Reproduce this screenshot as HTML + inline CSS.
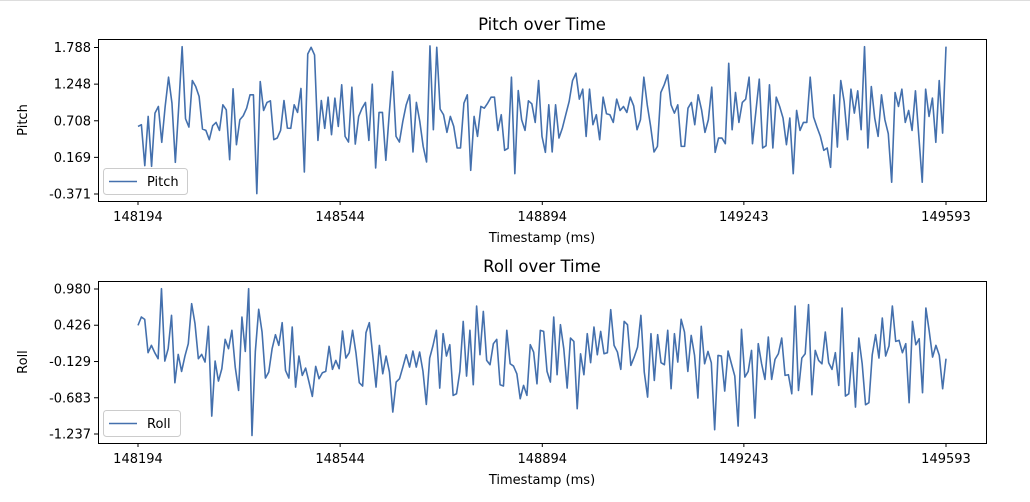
<!DOCTYPE html>
<html><head><meta charset="utf-8"><style>
body{margin:0;background:#fff;}
svg text{font-family:"DejaVu Sans","Liberation Sans",sans-serif;fill:#000;}
</style></head><body>
<svg id="fig" width="1030" height="497" xmlns="http://www.w3.org/2000/svg">
<rect x="0" y="0" width="1030" height="497" fill="#fff"/>
<line x1="0" y1="0.5" x2="1030" y2="0.5" stroke="#ddd"/>
</svg>
<script>
const pitchVals=[0.625,0.650,0.047,0.772,0.037,0.821,0.919,0.390,0.919,1.350,0.968,0.096,0.919,1.801,0.738,0.615,1.301,1.213,1.066,0.586,0.566,0.429,0.635,0.684,0.566,0.943,0.870,0.135,1.179,0.356,0.723,0.782,0.894,1.090,1.090,-0.365,1.287,0.860,0.978,1.002,0.429,0.454,0.566,1.007,0.600,0.596,0.943,0.831,1.184,-0.046,1.693,1.791,1.679,0.419,1.007,0.596,1.056,0.503,1.042,0.625,1.238,
0.478,0.395,1.203,0.365,0.772,0.894,0.978,0.419,1.247,0.013,0.831,0.831,0.125,0.811,1.434,0.478,0.395,0.699,0.943,1.090,0.248,0.978,0.699,0.331,0.101,1.811,0.576,1.791,0.880,0.797,0.537,0.772,0.625,0.307,0.307,0.968,1.090,-0.022,0.772,0.478,0.919,0.894,0.968,1.056,1.056,0.566,0.797,0.272,0.302,1.350,-0.071,1.154,0.723,0.566,1.002,0.958,0.684,1.301,
0.478,0.243,0.943,0.248,0.943,0.454,0.600,0.797,0.993,1.301,1.409,1.027,1.174,0.478,1.174,0.650,0.797,0.429,1.056,0.811,0.797,0.684,1.027,0.860,0.919,0.831,1.056,0.929,0.576,0.723,1.350,0.943,0.625,0.248,0.331,1.125,1.238,1.384,0.943,0.821,0.943,0.331,0.331,0.894,0.978,0.650,1.090,0.870,0.537,0.723,1.203,0.243,0.454,0.454,0.370,1.556,0.576,1.125,0.684,0.978,1.027,1.350,
0.370,0.846,1.321,0.307,0.341,1.238,0.307,1.056,0.919,0.748,0.356,0.748,-0.071,0.860,0.566,0.684,0.684,1.350,0.762,0.615,0.478,0.272,0.307,0.022,1.090,0.321,1.301,0.993,0.429,1.174,0.821,1.149,0.576,1.801,0.307,1.213,0.748,0.478,1.090,0.723,0.517,-0.198,1.125,0.919,1.174,0.684,0.860,0.566,1.149,0.478,-0.198,1.174,0.772,1.042,0.390,1.301,0.527,1.801];
const rollVals=[0.424,0.552,0.516,0.006,0.118,0.006,-0.086,0.985,-0.122,0.067,0.577,-0.453,-0.020,-0.280,-0.045,0.144,0.756,0.450,-0.086,-0.020,-0.137,0.409,-0.963,-0.122,-0.428,-0.239,0.210,0.067,0.348,-0.214,-0.571,0.552,0.026,0.985,-1.259,0.026,0.669,0.322,-0.382,-0.290,0.067,0.281,0.118,0.465,-0.265,-0.382,0.398,-0.520,-0.045,-0.341,-0.229,-0.443,-0.662,-0.203,-0.392,-0.300,-0.280,0.103,-0.249,-0.112,-0.239,0.337,
-0.076,0.006,0.348,0.006,-0.453,-0.504,0.312,0.465,-0.025,-0.520,0.118,-0.316,-0.045,-0.290,-0.902,-0.443,-0.392,-0.214,-0.025,-0.214,0.031,-0.214,0.016,-0.280,-0.785,-0.076,0.118,0.348,-0.535,0.297,-0.045,0.128,-0.647,-0.622,-0.280,0.485,-0.351,0.348,-0.484,0.720,-0.025,0.638,-0.112,-0.178,0.144,0.210,-0.484,-0.504,0.348,-0.163,-0.198,-0.316,-0.698,-0.494,-0.647,0.128,0.016,-0.469,0.348,0.332,-0.280,
-0.443,0.552,-0.331,0.434,0.067,-0.535,0.230,0.179,-0.851,-0.010,-0.331,0.297,-0.147,0.398,-0.025,0.332,-0.010,0.006,0.664,0.118,0.016,-0.249,0.485,0.434,-0.188,-0.061,0.092,0.577,-0.290,-0.673,0.297,-0.418,0.281,-0.147,-0.178,0.348,-0.545,0.297,-0.137,0.516,0.322,-0.280,0.271,-0.035,-0.688,0.409,-0.163,0.026,-0.147,-1.172,-0.035,-0.045,-0.581,0.031,-0.163,-0.351,-1.116,0.363,-0.367,-0.280,0.041,-0.994,0.144,
-0.163,-0.402,0.246,-0.402,-0.096,-0.010,0.230,-0.341,-0.331,-0.622,0.720,-0.571,-0.076,-0.010,0.740,-0.637,0.041,-0.112,-0.163,0.322,-0.147,-0.249,0.006,-0.494,0.689,-0.657,-0.622,0.006,-0.826,0.230,-0.163,-0.790,-0.759,-0.025,0.281,-0.076,0.536,-0.045,0.108,0.720,0.179,0.195,0.006,0.144,-0.759,0.485,0.128,0.220,-0.606,0.689,0.332,-0.061,0.118,-0.035,-0.545,-0.086];
const xTicks=[148194,148544,148894,149243,149593];
const pitchTicks=[1.788,1.248,0.708,0.169,-0.371];
const rollTicks=[0.980,0.426,-0.129,-0.683,-1.237];
const tStart=148194, tEnd=149593;

const svg=document.getElementById('fig');
const NS='http://www.w3.org/2000/svg';
function mk(tag,attrs,parent){const e=document.createElementNS(NS,tag);for(const k in attrs)e.setAttribute(k,attrs[k]);(parent||svg).appendChild(e);return e;}
function xScale(t){return 138+(t-tStart)*(946-138)/(tEnd-tStart);}

function panel(name,title,ylabel,vals,ticks,top,yTop,yBot){
  const g=mk('g',{});
  
  
  const v0=ticks[0],v1=ticks[ticks.length-1];
  const ys=v=>yTop+(v0-v)*(yBot-yTop)/(v0-v1);
  const L=98,R=986,T=top,B=top+162;
  const tt=mk('text',{x:542,y:T-9,'text-anchor':'middle','font-size':'16.5'},g);tt.textContent=title;
  
  
  // line
  const n=vals.length;
  let d='';
  vals.forEach((v,i)=>{const t=tStart+(tEnd-tStart)*i/(n-1);d+=(i?'L':'M')+xScale(t).toFixed(2)+' '+ys(v).toFixed(2);});
  const p=mk('path',{d:d,fill:'none',stroke:'#4470ad','stroke-width':'1.6','stroke-linejoin':'round'},g);
  
  
  const fr=mk('rect',{x:L+0.5,y:T+0.5,width:R-L,height:B-T,fill:'none',stroke:'#000','stroke-width':'1'},g);
  
  
  xTicks.forEach(t=>{const x=xScale(t);mk('line',{x1:x,y1:B,x2:x,y2:B+4,stroke:'#000'},g);
    const tx=mk('text',{x:x,y:B+20,'text-anchor':'middle','font-size':'13'},g);tx.textContent=t;
    
    });
  ticks.forEach(v=>{const y=ys(v);mk('line',{x1:L-4,y1:y,x2:L,y2:y,stroke:'#000'},g);
    const tx=mk('text',{x:L-7,y:y+4.5,'text-anchor':'end','font-size':'13'},g);tx.textContent=v.toFixed(3);
    
    });
  const xl=mk('text',{x:542,y:B+41,'text-anchor':'middle','font-size':'13'},g);xl.textContent='Timestamp (ms)';
  
  
  const cy=(T+B)/2;
  const yl=mk('text',{x:27,y:cy,'text-anchor':'middle','font-size':'13',transform:'rotate(-90 27 '+cy+')'},g);yl.textContent=ylabel;
  
  
  // legend
  const lg=mk('g',{},g);
  
  
  const w=ylabel==='Pitch'?84:77;
  mk('rect',{x:103.5,y:B-32.5,width:w,height:26,rx:3,fill:'#fff','fill-opacity':'0.8',stroke:'#ccc'},lg);
  mk('line',{x1:109,y1:B-19.5,x2:137,y2:B-19.5,stroke:'#4470ad','stroke-width':'1.6'},lg);
  const lt=mk('text',{x:147,y:B-15,'font-size':'13'},lg);lt.textContent=ylabel;
}
panel('pitch','Pitch over Time','Pitch',pitchVals,pitchTicks,39,47.5,194);
panel('roll','Roll over Time','Roll',rollVals,rollTicks,281,289,434);
</script>
</body></html>
